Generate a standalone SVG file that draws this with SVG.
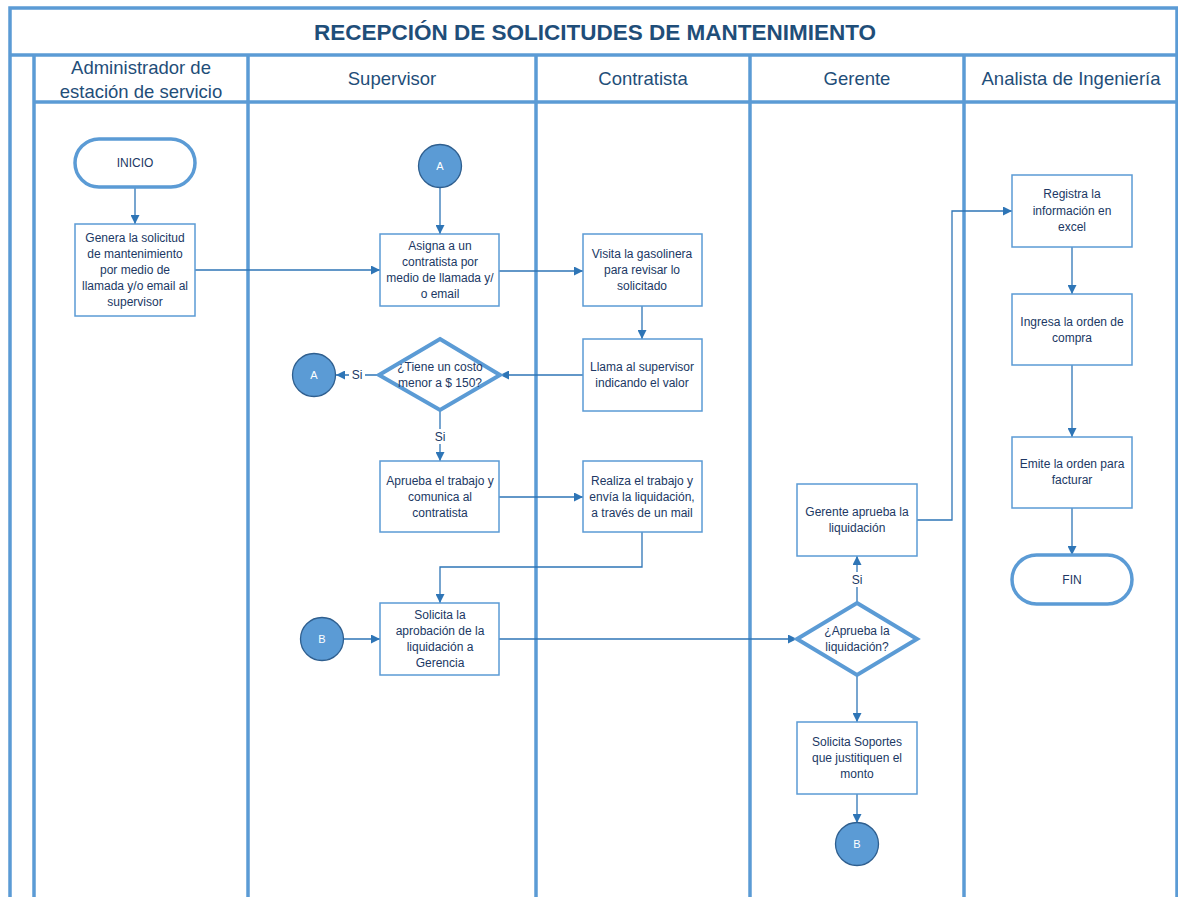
<svg xmlns="http://www.w3.org/2000/svg" width="1178" height="897" viewBox="0 0 1178 897">
<defs>
<marker id="ah" viewBox="0 0 10 10" refX="10" refY="5" markerWidth="9" markerHeight="9" markerUnits="userSpaceOnUse" orient="auto">
<path d="M0,0 L10,5 L0,10 Z" fill="#2e75b6"/>
</marker>
<style>
.frame{fill:none;stroke:#5b9bd5;stroke-width:3.5}
.box{fill:#fff;stroke:#5b9bd5;stroke-width:1.5}
.term{fill:#fff;stroke:#5b9bd5;stroke-width:3.5}
.dia{fill:#fff;stroke:#5b9bd5;stroke-width:4}
.circ{fill:#5b9bd5;stroke:#2f5f8f;stroke-width:1.3}
.con{fill:none;stroke:#2e75b6;stroke-width:1.3}
.arr{marker-end:url(#ah)}
.t{font-family:"Liberation Sans",Arial,sans-serif;font-size:12px;fill:#203864;text-anchor:middle}
.ct{font-family:"Liberation Sans",Arial,sans-serif;font-size:11px;fill:#fff;text-anchor:middle}
.h{font-family:"Liberation Sans",Arial,sans-serif;font-size:18.5px;fill:#1f4e79;text-anchor:middle}
.title{font-family:"Liberation Sans",Arial,sans-serif;font-size:22.5px;font-weight:bold;fill:#1f4e79;text-anchor:middle}
.lbl{font-family:"Liberation Sans",Arial,sans-serif;font-size:12px;fill:#203864;text-anchor:middle}
</style>
</defs>
<rect width="1178" height="897" fill="#fff"/>
<g id="frame">
<path class="frame" d="M10,897 L10,8 L1177,8 L1177,897"/>
<line class="frame" x1="10" y1="55" x2="1177" y2="55"/>
<line class="frame" x1="34" y1="102" x2="1177" y2="102"/>
<line class="frame" x1="34" y1="55" x2="34" y2="897"/>
<line class="frame" x1="248" y1="55" x2="248" y2="897"/>
<line class="frame" x1="536" y1="55" x2="536" y2="897"/>
<line class="frame" x1="750" y1="55" x2="750" y2="897"/>
<line class="frame" x1="964" y1="55" x2="964" y2="897"/>
<text class="title" x="595" y="40">RECEPCIÓN DE SOLICITUDES DE MANTENIMIENTO</text>
<text class="h" x="141" y="74">Administrador de</text>
<text class="h" x="141" y="98">estación de servicio</text>
<text class="h" x="392" y="85">Supervisor</text>
<text class="h" x="643" y="85">Contratista</text>
<text class="h" x="857" y="85">Gerente</text>
<text class="h" x="1071" y="85">Analista de Ingeniería</text>
</g>
<g id="connectors">
<line class="con arr" x1="135" y1="187" x2="135" y2="224"/>
<line class="con arr" x1="195" y1="270" x2="380" y2="270"/>
<line class="con arr" x1="440" y1="187" x2="440" y2="234"/>
<line class="con arr" x1="499" y1="271" x2="583" y2="271"/>
<line class="con arr" x1="642" y1="306" x2="642" y2="339"/>
<line class="con arr" x1="583" y1="375" x2="500" y2="375"/>
<line class="con arr" x1="379" y1="375" x2="336" y2="375"/>
<line class="con arr" x1="440" y1="410" x2="440" y2="461"/>
<line class="con arr" x1="499" y1="497" x2="583" y2="497"/>
<polyline class="con arr" points="642,532 642,567 440,567 440,603"/>
<line class="con arr" x1="344" y1="639" x2="380" y2="639"/>
<line class="con arr" x1="499" y1="639" x2="797" y2="639"/>
<line class="con arr" x1="857" y1="603" x2="857" y2="556"/>
<line class="con arr" x1="857" y1="675" x2="857" y2="722"/>
<line class="con arr" x1="857" y1="794" x2="857" y2="823"/>
<polyline class="con arr" points="917,520 952,520 952,211 1012,211"/>
<line class="con arr" x1="1072" y1="247" x2="1072" y2="294"/>
<line class="con arr" x1="1072" y1="365" x2="1072" y2="437"/>
<line class="con arr" x1="1072" y1="508" x2="1072" y2="555"/>
<rect x="349" y="367" width="16" height="15" fill="#fff"/>
<text class="lbl" x="357" y="379">Si</text>
<rect x="432" y="429" width="16" height="15" fill="#fff"/>
<text class="lbl" x="440" y="441">Si</text>
<rect x="849" y="572" width="16" height="15" fill="#fff"/>
<text class="lbl" x="857" y="584">Si</text>
</g>
<g id="inicio">
<rect class="term" x="75" y="139" width="120" height="48" rx="24"/>
<text class="t" x="135" y="167">INICIO</text>
</g>
<g id="genera">
<rect class="box" x="75" y="224" width="120" height="92"/>
<text class="t" x="135" y="242">Genera la solicitud</text>
<text class="t" x="135" y="258">de mantenimiento</text>
<text class="t" x="135" y="274">por medio de</text>
<text class="t" x="135" y="290">llamada y/o email al</text>
<text class="t" x="135" y="306">supervisor</text>
</g>
<g id="conA1">
<circle class="circ" cx="440" cy="166" r="21.5"/>
<text class="ct" x="440" y="170">A</text>
</g>
<g id="asigna">
<rect class="box" x="380" y="234" width="119" height="72"/>
<text class="t" x="440" y="250">Asigna a un</text>
<text class="t" x="440" y="266">contratista por</text>
<text class="t" x="440" y="282">medio de llamada y/</text>
<text class="t" x="440" y="298">o email</text>
</g>
<g id="visita">
<rect class="box" x="583" y="234" width="119" height="72"/>
<text class="t" x="642" y="258">Visita la gasolinera</text>
<text class="t" x="642" y="274">para revisar lo</text>
<text class="t" x="642" y="290">solicitado</text>
</g>
<g id="llama">
<rect class="box" x="583" y="339" width="119" height="72"/>
<text class="t" x="642" y="371">Llama al supervisor</text>
<text class="t" x="642" y="387">indicando el valor</text>
</g>
<g id="decision1">
<polygon class="dia" points="440,339 500,375 440,410 379,375"/>
<text class="t" x="440" y="371">¿Tiene un costo</text>
<text class="t" x="440" y="387">menor a $ 150?</text>
</g>
<g id="conA2">
<circle class="circ" cx="314" cy="375" r="21.5"/>
<text class="ct" x="314" y="379">A</text>
</g>
<g id="aprueba">
<rect class="box" x="380" y="461" width="119" height="71"/>
<text class="t" x="440" y="485">Aprueba el trabajo y</text>
<text class="t" x="440" y="501">comunica al</text>
<text class="t" x="440" y="517">contratista</text>
</g>
<g id="realiza">
<rect class="box" x="583" y="461" width="119" height="71"/>
<text class="t" x="642" y="485">Realiza el trabajo y</text>
<text class="t" x="642" y="501">envía la liquidación,</text>
<text class="t" x="642" y="517">a través de un mail</text>
</g>
<g id="conB1">
<circle class="circ" cx="322" cy="639" r="21.5"/>
<text class="ct" x="322" y="643">B</text>
</g>
<g id="solicita">
<rect class="box" x="380" y="603" width="119" height="72"/>
<text class="t" x="440" y="619">Solicita la</text>
<text class="t" x="440" y="635">aprobación de la</text>
<text class="t" x="440" y="651">liquidación a</text>
<text class="t" x="440" y="667">Gerencia</text>
</g>
<g id="decision2">
<polygon class="dia" points="857,603 917,639 857,675 797,639"/>
<text class="t" x="857" y="635">¿Aprueba la</text>
<text class="t" x="857" y="651">liquidación?</text>
</g>
<g id="gerente">
<rect class="box" x="797" y="484" width="120" height="72"/>
<text class="t" x="857" y="516">Gerente aprueba la</text>
<text class="t" x="857" y="532">liquidación</text>
</g>
<g id="soportes">
<rect class="box" x="797" y="722" width="120" height="72"/>
<text class="t" x="857" y="746">Solicita Soportes</text>
<text class="t" x="857" y="762">que justitiquen el</text>
<text class="t" x="857" y="778">monto</text>
</g>
<g id="conB2">
<circle class="circ" cx="857" cy="844" r="21.5"/>
<text class="ct" x="857" y="848">B</text>
</g>
<g id="registra">
<rect class="box" x="1012" y="175" width="120" height="72"/>
<text class="t" x="1072" y="198">Registra la</text>
<text class="t" x="1072" y="215">información en</text>
<text class="t" x="1072" y="231">excel</text>
</g>
<g id="ingresa">
<rect class="box" x="1012" y="294" width="120" height="71"/>
<text class="t" x="1072" y="326">Ingresa la orden de</text>
<text class="t" x="1072" y="342">compra</text>
</g>
<g id="emite">
<rect class="box" x="1012" y="437" width="120" height="71"/>
<text class="t" x="1072" y="468">Emite la orden para</text>
<text class="t" x="1072" y="484">facturar</text>
</g>
<g id="fin">
<rect class="term" x="1012" y="555" width="120" height="49" rx="24.5"/>
<text class="t" x="1072" y="584">FIN</text>
</g>
</svg>
